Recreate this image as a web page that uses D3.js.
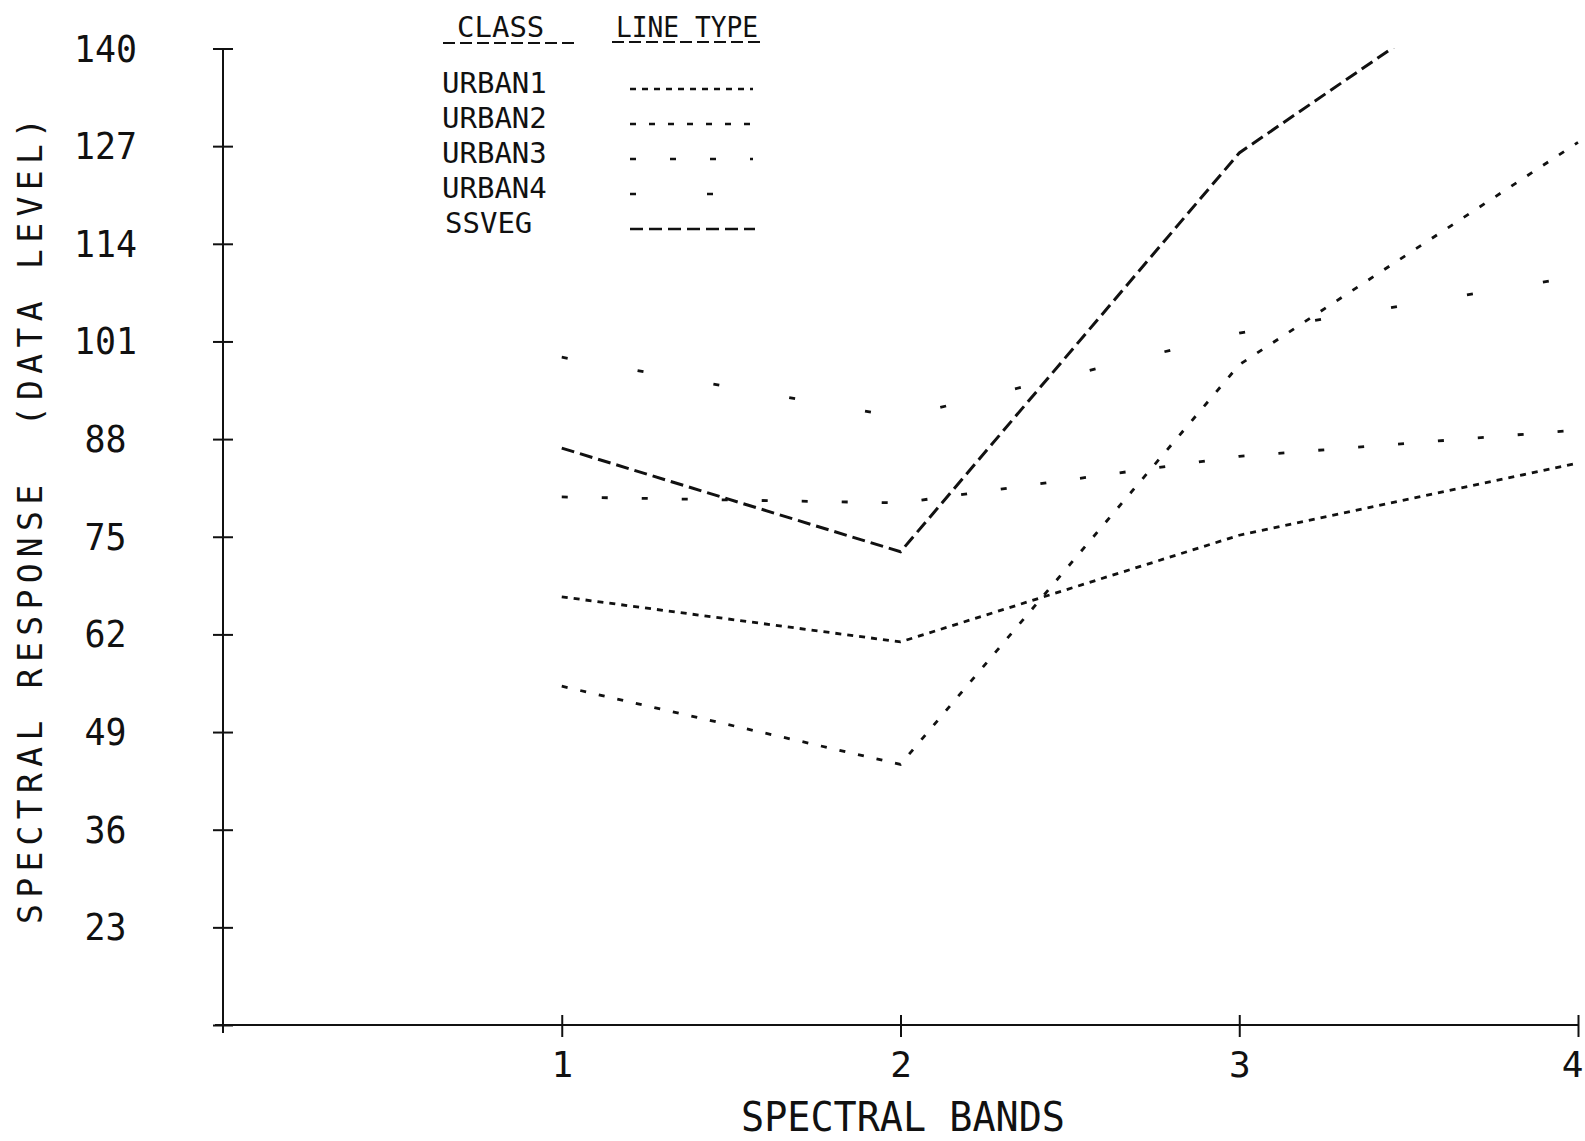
<!DOCTYPE html>
<html>
<head>
<meta charset="utf-8">
<script src="https://cdn.jsdelivr.net/npm/d3@7"></script>
<style>
  html, body { margin: 0; padding: 0; background: #fff; }
  svg { display: block; }
</style>
</head>
<body>
<div id="chart"></div>
<script>
// values
const bands = [1, 2, 3, 4];
const classes = ['URBAN1', 'URBAN2', 'URBAN3', 'URBAN4', 'SSVEG'];
const urban1 = [67.0, 61.0, 75.2, 84.8];
const urban2 = [55.1, 44.7, 97.9, 127.5];
const urban3 = [80.3, 79.5, 85.7, 89.2];
const urban4 = [98.9, 90.9, 102.1, 109.7];
const ssveg = [86.8, 73.0, 126.1, 157.0];   // runs off the top of the plot
const yTicks = [140, 127, 114, 101, 88, 75, 62, 49, 36, 23];

const seriesValues = [urban1, urban2, urban3, urban4, ssveg];

// pen patterns, one per class
const lineTypes = {
    URBAN1: { dash: '6,6', legendEnd: 753 },
    URBAN2: { dash: '6,13', legendEnd: 753 },
    URBAN3: { dash: '6,34', legendEnd: 753 },
    URBAN4: { dash: '6,71', legendEnd: 714 },
    SSVEG:  { dash: '13,6', legendEnd: 755 }
};

const config = {
    width: 1585,
    height: 1141,
    x0: 223,
    x4: 1578,
    yTop: 48.5,
    yBottom: 1025,
    yMin: 10,
    yMax: 140,
    font: '"DejaVu Sans Mono", monospace',
    ink: '#111'
};

const svg = d3.select('#chart').append('svg')
    .attr('width', config.width)
    .attr('height', config.height);

svg.append('rect')
    .attr('width', config.width)
    .attr('height', config.height)
    .attr('fill', '#fff');

const x = d3.scaleLinear().domain([0, 4]).range([config.x0, config.x4]);
const y = d3.scaleLinear().domain([config.yMin, config.yMax]).range([config.yBottom, config.yTop]);

// clip so lines stop at the top of the y axis
svg.append('defs').append('clipPath').attr('id', 'plotclip')
    .append('rect')
    .attr('x', config.x0)
    .attr('y', y(config.yMax))
    .attr('width', config.width - config.x0)
    .attr('height', y(config.yMin) - y(config.yMax) + 5);

// y axis
const yAxis = d3.axisLeft(y)
    .tickValues(yTicks.concat([config.yMin]))
    .tickSize(10)
    .tickFormat(d => d === config.yMin ? '' : d);

const gy = svg.append('g')
    .attr('transform', 'translate(' + config.x0 + ',0)')
    .call(yAxis);
gy.select('.domain').remove();
gy.selectAll('.tick line')
    .attr('x1', 10).attr('x2', -10)
    .attr('stroke', config.ink).attr('stroke-width', 2);
gy.selectAll('.tick text')
    .attr('x', -117.5)
    .attr('dy', null)
    .attr('y', 12.5)
    .attr('text-anchor', 'middle')
    .attr('font-family', config.font)
    .attr('font-size', 38)
    .attr('fill', config.ink)
    .attr('textLength', d => String(d).length * 21)
    .attr('lengthAdjust', 'spacingAndGlyphs');

svg.append('line')
    .attr('x1', config.x0).attr('x2', config.x0)
    .attr('y1', y(config.yMax)).attr('y2', y(config.yMin) + 8)
    .attr('stroke', config.ink).attr('stroke-width', 2);

// x axis
const xAxis = d3.axisBottom(x)
    .tickValues(bands)
    .tickSize(11)
    .tickFormat(d3.format('d'));

const gx = svg.append('g')
    .attr('transform', 'translate(0,' + config.yBottom + ')')
    .call(xAxis);
gx.select('.domain').remove();
gx.selectAll('.tick line')
    .attr('y1', -10).attr('y2', 12)
    .attr('stroke', config.ink).attr('stroke-width', 2);
gx.selectAll('.tick text')
    .attr('y', 52)
    .attr('dy', null)
    .attr('x', d => d === 4 ? -6 : 0)   // last label sits on the sheet edge
    .attr('font-family', config.font)
    .attr('font-size', 36)
    .attr('fill', config.ink);

svg.append('line')
    .attr('x1', config.x0 - 8).attr('x2', x(4))
    .attr('y1', config.yBottom).attr('y2', config.yBottom)
    .attr('stroke', config.ink).attr('stroke-width', 2.2);

// axis titles
svg.append('text')
    .attr('x', 741).attr('y', 1131)
    .attr('font-family', config.font)
    .attr('font-size', 40)
    .attr('fill', config.ink)
    .attr('textLength', 324)
    .attr('lengthAdjust', 'spacingAndGlyphs')
    .text('SPECTRAL BANDS');

svg.append('text')
    .attr('transform', 'translate(42,924) rotate(-90)')
    .attr('font-family', config.font)
    .attr('font-size', 33)
    .attr('fill', config.ink)
    .attr('textLength', 806)
    .attr('lengthAdjust', 'spacing')
    .style('white-space', 'pre')
    .text('SPECTRAL RESPONSE  (DATA LEVEL)');

// data lines
const line = d3.line()
    .x((d, i) => x(bands[i]))
    .y(d => y(d));

svg.append('g')
    .attr('clip-path', 'url(#plotclip)')
    .selectAll('path')
    .data(seriesValues)
    .enter().append('path')
    .attr('d', line)
    .attr('fill', 'none')
    .attr('stroke', config.ink)
    .attr('stroke-width', (d, i) => classes[i] === 'SSVEG' ? 3 : 2.8)
    .attr('stroke-dasharray', (d, i) => lineTypes[classes[i]].dash);

// legend
const lg = svg.append('g').attr('class', 'legend');

lg.append('text')
    .attr('x', 457).attr('y', 37)
    .attr('font-family', config.font).attr('font-size', 29)
    .attr('fill', config.ink)
    .text('CLASS');
lg.append('text')
    .attr('x', 616).attr('y', 37)
    .attr('font-family', config.font).attr('font-size', 29)
    .attr('fill', config.ink)
    .attr('textLength', 142)
    .attr('lengthAdjust', 'spacingAndGlyphs')
    .style('white-space', 'pre')
    .text('LINE TYPE');

lg.append('line')
    .attr('x1', 443).attr('x2', 577).attr('y1', 43).attr('y2', 43)
    .attr('stroke', config.ink).attr('stroke-width', 2)
    .attr('stroke-dasharray', '12,5');
lg.append('line')
    .attr('x1', 612).attr('x2', 760).attr('y1', 42).attr('y2', 42)
    .attr('stroke', config.ink).attr('stroke-width', 2)
    .attr('stroke-dasharray', '12,5');

const rows = lg.selectAll('g.row')
    .data(classes)
    .enter().append('g')
    .attr('class', 'row')
    .attr('transform', (d, i) => 'translate(0,' + (93 + i * 35) + ')');

rows.append('text')
    .attr('x', (d) => d === 'SSVEG' ? 445 : 442)
    .attr('y', 0)
    .attr('font-family', config.font).attr('font-size', 29)
    .attr('fill', config.ink)
    .text(d => d);

rows.append('line')
    .attr('x1', 630)
    .attr('x2', d => lineTypes[d].legendEnd)
    .attr('y1', -4).attr('y2', -4)
    .attr('stroke', config.ink)
    .attr('stroke-width', d => d === 'SSVEG' ? 2.6 : 2.3)
    .attr('stroke-dasharray', d => lineTypes[d].dash);
</script>
</body>
</html>
